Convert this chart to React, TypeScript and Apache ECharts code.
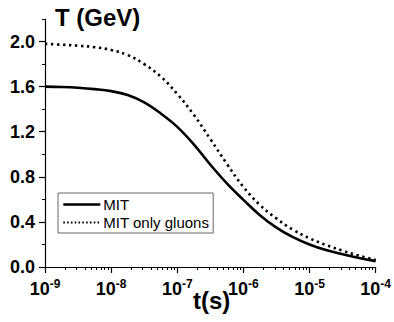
import React, { useEffect, useRef } from "react";
import * as echarts from "echarts";

const logT = [-9, -8.75, -8.5, -8.25, -8, -7.75, -7.5, -7.25, -7, -6.75, -6.5, -6.25, -6, -5.75, -5.5, -5.25, -5, -4.75, -4.5, -4.25, -4];
const mitT = [1.6, 1.597, 1.59, 1.578, 1.56, 1.525, 1.46, 1.362, 1.243, 1.088, 0.908, 0.742, 0.596, 0.46, 0.35, 0.265, 0.2, 0.15, 0.113, 0.08, 0.052];
const gluonT = [1.98, 1.972, 1.963, 1.95, 1.925, 1.88, 1.8, 1.69, 1.535, 1.35, 1.135, 0.915, 0.71, 0.55, 0.43, 0.33, 0.255, 0.195, 0.145, 0.1, 0.062];
const yMajor = [0, 0.4, 0.8, 1.2, 1.6, 2.0];
const yMinor = [0.2, 0.6, 1.0, 1.4, 1.8, 2.2];
const xDecades = [-9, -8, -7, -6, -5, -4];
const seriesNames = ["MIT", "MIT only gluons"];

const FONT = '"Liberation Sans", Arial, sans-serif';

export default function App() {
  const ref = useRef<HTMLDivElement>(null);
  useEffect(() => {
    document.body.style.margin = "0";
    const chart = echarts.init(ref.current!, null, { renderer: "svg" });
    const xMinor: number[] = [];
    for (let d = -9; d < -4; d++) {
      for (let k = 2; k <= 9; k++) xMinor.push(d + Math.log10(k));
    }
    chart.setOption({
      animation: false,
      backgroundColor: "#fff",
      textStyle: { fontFamily: FONT },
      grid: { left: 45, right: 15, top: 19, bottom: 55 },
      legend: {
        orient: "vertical",
        left: 58,
        top: 193,
        padding: [4, 4, 3, 4],
        itemGap: 3,
        itemWidth: 37,
        itemHeight: 14,
        borderColor: "#666",
        borderWidth: 1,
        textStyle: { fontSize: 15, color: "#000", fontFamily: FONT, padding: [0, 0, 0, -2] },
        data: [
          { name: seriesNames[0], itemStyle: { opacity: 0 }, lineStyle: { width: 2.6, type: "solid", color: "#000" } },
          { name: seriesNames[1], itemStyle: { opacity: 0 }, lineStyle: { width: 2, type: [1.6, 2.2], color: "#000" } },
        ],
      },
      xAxis: [
        {
          type: "value",
          min: -9,
          max: -4,
          interval: 1,
          position: "bottom",
          axisLine: { lineStyle: { color: "#000", width: 1.2 } },
          axisTick: { inside: false, length: 6, lineStyle: { color: "#000", width: 1.2 }, customValues: xDecades },
          splitLine: { show: false },
          axisLabel: {
            margin: 11,
            customValues: xDecades,
            formatter: (v: number) => `{b|10}{e|${v}}`,
            rich: {
              b: { fontSize: 18, fontWeight: "bold", color: "#000", fontFamily: FONT },
              e: { fontSize: 12, fontWeight: "bold", color: "#000", fontFamily: FONT, padding: [0, 0, 9, 0] },
            },
          },
        },
        {
          type: "value",
          min: -9,
          max: -4,
          position: "bottom",
          axisLine: { show: false },
          axisTick: { length: 3, lineStyle: { color: "#000", width: 1 }, customValues: xMinor },
          axisLabel: { show: false },
          splitLine: { show: false },
        },
      ],
      yAxis: [
        {
          type: "value",
          min: 0,
          max: 2.2,
          position: "left",
          axisLine: { show: true, lineStyle: { color: "#000", width: 1.2 } },
          axisTick: { show: true, length: 6, lineStyle: { color: "#000", width: 1.2 }, customValues: yMajor },
          splitLine: { show: false },
          axisLabel: {
            margin: 10,
            customValues: yMajor,
            formatter: (v: number) => v.toFixed(1),
            fontSize: 18,
            fontWeight: "bold",
            color: "#000",
            fontFamily: FONT,
          },
        },
        {
          type: "value",
          min: 0,
          max: 2.2,
          position: "left",
          axisLine: { show: false },
          axisTick: { show: true, length: 3, lineStyle: { color: "#000", width: 1 }, customValues: yMinor },
          axisLabel: { show: false },
          splitLine: { show: false },
        },
      ],
      graphic: [
        { type: "text", left: 55, top: 5, style: { text: "T (GeV)", font: `bold 24px ${FONT}`, fill: "#000" } },
        { type: "text", left: 193, top: 288, style: { text: "t(s)", font: `bold 24px ${FONT}`, fill: "#000" } },
      ],
      series: [
        {
          name: seriesNames[0],
          type: "line",
          smooth: 0.4,
          symbol: "none",
          xAxisIndex: 0,
          yAxisIndex: 0,
          data: logT.map((x, i) => [x, mitT[i]]),
          lineStyle: { color: "#000", width: 2.6 },
          itemStyle: { color: "#000" },
        },
        {
          name: seriesNames[1],
          type: "line",
          smooth: 0.4,
          symbol: "none",
          xAxisIndex: 0,
          yAxisIndex: 0,
          data: logT.map((x, i) => [x, gluonT[i]]),
          lineStyle: { color: "#000", width: 2.6, type: [2.4, 3.6] },
          itemStyle: { color: "#000" },
        },
      ],
    });
    return () => chart.dispose();
  }, []);
  return <div ref={ref} style={{ width: 394, height: 322 }} />;
}
